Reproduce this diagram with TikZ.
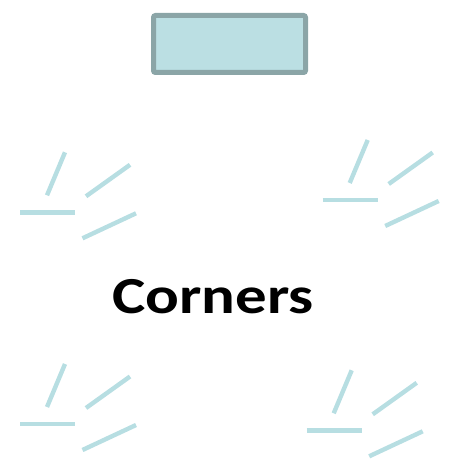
\documentclass[tikz,border=0pt]{standalone}
\usepackage{fontspec}
\setmainfont{Carlito}
\usetikzlibrary{positioning}
\definecolor{boxfill}{RGB}{187,223,227}
\definecolor{boxedge}{RGB}{139,165,167}
\definecolor{strokecol}{RGB}{183,222,226}
\tikzset{
  sk/box/.style={draw=boxedge, fill=boxfill, line width=5pt, rounded corners=2pt, minimum width=152pt, minimum height=57pt, inner sep=0pt},
  sk/stroke/.style={draw=strokecol, line width=4.4pt},
  sk/title/.style={font=\bfseries\fontsize{52}{52}\selectfont, inner sep=0pt, anchor=base}
}

\begin{document}
\begin{tikzpicture}[x=1pt, y=-1pt]
  \useasboundingbox (0,0) rectangle (452,462);
  \node[sk/box] (box) at (229.5,44) {};
  \node[sk/title] (title) at (213,313.5) {\scalebox{1.21}[1]{Corners}};

  % four groups of strokes, one per corner
  \foreach \gx/\gy in {20/212.3, 322.7/200, 20/424, 306.7/430.3} {
    \begin{scope}[shift={(\gx,\gy)}]
      \draw[sk/stroke] (45,-60) -- (27,-17);
      \draw[sk/stroke] (66,-16) -- (110,-47.5);
      \draw[sk/stroke] (0,0) -- (55,0);
      \draw[sk/stroke] (62.5,26) -- (116,1);
    \end{scope}
  }
\end{tikzpicture}
\end{document}
